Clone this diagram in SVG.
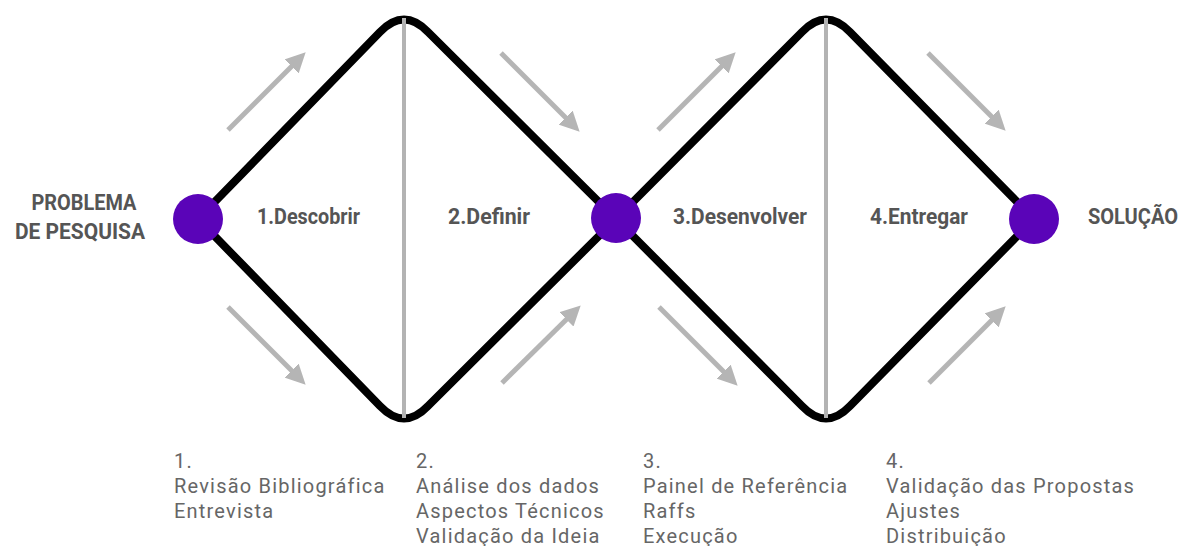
<svg xmlns="http://www.w3.org/2000/svg" width="1193" height="546" viewBox="0 0 1193 546">
<defs>
<marker id="ah" viewBox="0 0 10 10" refX="6" refY="5" markerWidth="4" markerHeight="4" orient="auto" markerUnits="strokeWidth">
<path d="M0,0 L10,5 L0,10 Z" fill="#b5b5b5"/>
</marker>
<style>
.path{fill:none;stroke:#000;stroke-width:8;stroke-linejoin:round;stroke-linecap:round}
.div{stroke:#b3b3b3;stroke-width:4}
.arr{stroke:#b5b5b5;stroke-width:5;fill:none;marker-end:url(#ah)}
.node{fill:#5a04b8}
.bold{font-family:Roboto,"Liberation Sans",sans-serif;font-weight:bold;font-size:22px;fill:#555}
.list{font-family:Roboto,"Liberation Sans",sans-serif;font-size:20px;letter-spacing:1.2px;fill:#666}
</style>
</defs>
<rect width="1193" height="546" fill="#fff"/>
<g id="connectors">
<path class="path" d="M198,219 L380,32 Q404,7 428,32 L616,219 L802,32 Q826,7 850,32 L1034,219"/>
<path class="path" d="M198,219 L380,406 Q404,431 428,406 L616,219 L802,406 Q826,431 850,406 L1034,219"/>
<line class="div" x1="404" y1="18" x2="404" y2="418"/>
<line class="div" x1="826" y1="18" x2="826" y2="418"/>
<line class="arr" x1="228" y1="130" x2="300" y2="58"/>
<line class="arr" x1="228" y1="307" x2="300" y2="379"/>
<line class="arr" x1="501" y1="53" x2="574" y2="126"/>
<line class="arr" x1="502" y1="383" x2="575" y2="311"/>
<line class="arr" x1="658" y1="130" x2="730" y2="58"/>
<line class="arr" x1="659" y1="307" x2="732" y2="380"/>
<line class="arr" x1="928" y1="53" x2="1000" y2="125"/>
<line class="arr" x1="929" y1="383" x2="1000" y2="312"/>
</g>
<g id="start">
<circle class="node" cx="198" cy="219" r="25"/>
<text class="bold" x="84" y="210" text-anchor="middle" textLength="105" lengthAdjust="spacingAndGlyphs">PROBLEMA</text>
<text class="bold" x="80" y="239" text-anchor="middle" textLength="130" lengthAdjust="spacingAndGlyphs">DE PESQUISA</text>
</g>
<g id="mid">
<circle class="node" cx="616" cy="218" r="25"/>
</g>
<g id="end">
<circle class="node" cx="1034" cy="219" r="25"/>
<text class="bold" x="1088" y="224" textLength="90" lengthAdjust="spacingAndGlyphs">SOLUÇÃO</text>
</g>
<g id="phase1">
<text class="bold" x="257" y="224" textLength="103" lengthAdjust="spacingAndGlyphs">1.Descobrir</text>
<text class="list" x="174" y="468">1.</text>
<text class="list" x="174" y="493">Revisão Bibliográfica</text>
<text class="list" x="174" y="518">Entrevista</text>
</g>
<g id="phase2">
<text class="bold" x="448" y="224" textLength="82" lengthAdjust="spacingAndGlyphs">2.Definir</text>
<text class="list" x="416" y="468">2.</text>
<text class="list" x="416" y="493">Análise dos dados</text>
<text class="list" x="416" y="518">Aspectos Técnicos</text>
<text class="list" x="416" y="543">Validação da Ideia</text>
</g>
<g id="phase3">
<text class="bold" x="673" y="224" textLength="134" lengthAdjust="spacingAndGlyphs">3.Desenvolver</text>
<text class="list" x="643" y="468">3.</text>
<text class="list" x="643" y="493">Painel de Referência</text>
<text class="list" x="643" y="518">Raffs</text>
<text class="list" x="643" y="543">Execução</text>
</g>
<g id="phase4">
<text class="bold" x="870" y="224" textLength="98" lengthAdjust="spacingAndGlyphs">4.Entregar</text>
<text class="list" x="886" y="468">4.</text>
<text class="list" x="886" y="493">Validação das Propostas</text>
<text class="list" x="886" y="518">Ajustes</text>
<text class="list" x="886" y="543">Distribuição</text>
</g>
</svg>
